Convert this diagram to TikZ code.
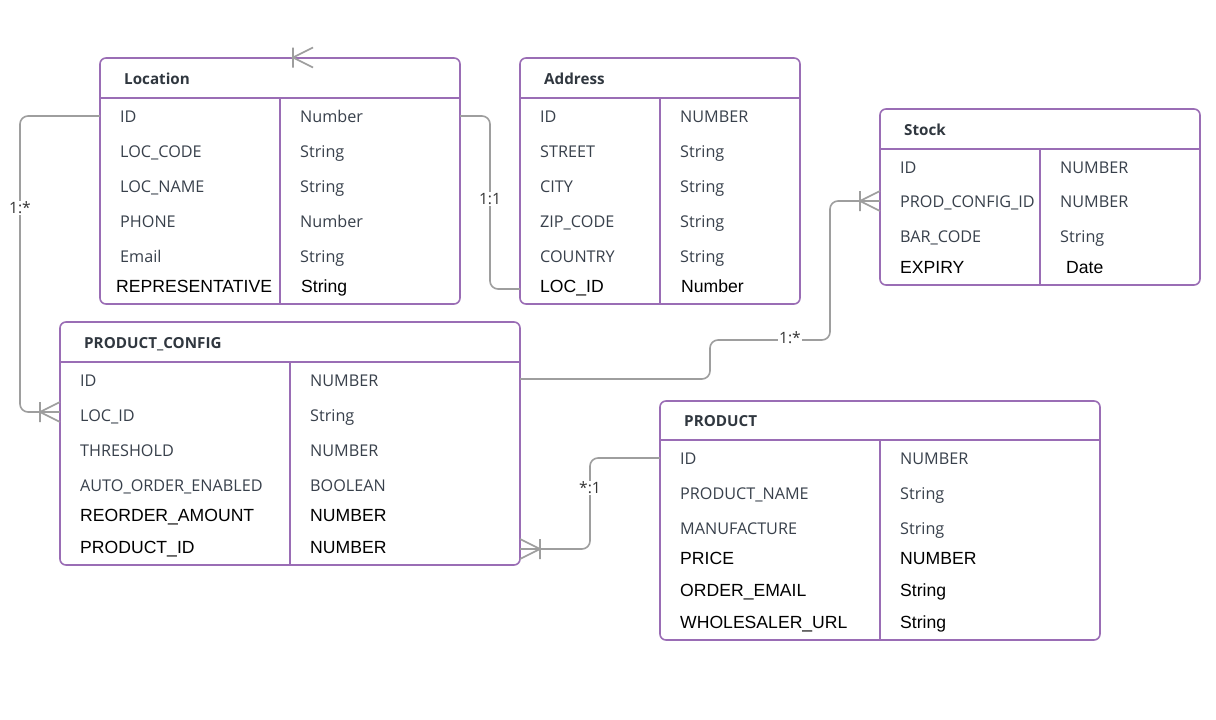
\documentclass[tikz,border=0pt]{standalone}
\usepackage{fontspec}
\setmainfont{Liberation Sans}
\newfontfamily\osans{Open Sans}
\usetikzlibrary{calc}
\definecolor{purp}{HTML}{9A6DB5}
\definecolor{lgray}{HTML}{9E9E9E}
\definecolor{txt}{HTML}{38404B}
\definecolor{hdr}{HTML}{30373F}
\tikzset{
  tbl/.style={draw=purp, line width=1.6pt, rounded corners=6pt, anchor=north west, outer sep=0pt, inner sep=0pt},
  sep/.style={draw=purp, line width=1.6pt},
  hd/.style={anchor=west, inner sep=0pt, text height=10.9pt, text depth=0pt, text=hdr, font=\osans\fontsize{15.2}{18}\selectfont\bfseries},
  fo/.style={anchor=west, inner sep=0pt, text height=11.5pt, text depth=0pt, text=txt, font=\osans\fontsize{16.2}{19}\selectfont},
  fa/.style={anchor=west, inner sep=0pt, text height=12.7pt, text depth=0pt, text=black, font=\fontsize{17.6}{20}\selectfont},
  conn/.style={draw=lgray, line width=1.6pt, rounded corners=8pt},
  lbl/.style={fill=white, inner sep=1pt, text=black!80, font=\osans\fontsize{15.6}{18}\selectfont},
  pics/crow/.style={code={\draw[draw=lgray, line width=1.6pt] (-20,-10) -- (-20,10) (0,-10) -- (-20,0) -- (0,10);}}
}
\begin{document}
\begin{tikzpicture}[x=1pt, y=-1pt]
\useasboundingbox[fill=white] (0,0) rectangle (1216,720);

% ---------- Location ----------
\node[tbl, minimum width=360pt, minimum height=246pt] (loc) at (100,58) {};
\draw[sep] (100,98) -- (460,98);
\draw[sep] (280,98) -- (280,304);
\node[hd] (loch) at (124,79) {Location};
\node[fo] (loc1) at (120,117) {ID};
\node[fo] (loc2) at (120,152) {LOC\_CODE};
\node[fo] (loc3) at (120,187) {LOC\_NAME};
\node[fo] (loc4) at (120,222) {PHONE};
\node[fo] (loc5) at (120,257) {Email};
\node[fa] (loc6) at (116,286) {REPRESENTATIVE};
\node[fo] (loct1) at (300,117) {Number};
\node[fo] (loct2) at (300,152) {String};
\node[fo] (loct3) at (300,187) {String};
\node[fo] (loct4) at (300,222) {Number};
\node[fo] (loct5) at (300,257) {String};
\node[fa] (loct6) at (301,286) {String};

% ---------- Address ----------
\node[tbl, minimum width=280pt, minimum height=246pt] (addr) at (520,58) {};
\draw[sep] (520,98) -- (800,98);
\draw[sep] (660,98) -- (660,304);
\node[hd] (addrh) at (544,79) {Address};
\node[fo] (addr1) at (540,117) {ID};
\node[fo] (addr2) at (540,152) {STREET};
\node[fo] (addr3) at (540,187) {CITY};
\node[fo] (addr4) at (540,222) {ZIP\_CODE};
\node[fo] (addr5) at (540,257) {COUNTRY};
\node[fa] (addr6) at (540,286) {LOC\_ID};
\node[fo] (addrt1) at (680,117) {NUMBER};
\node[fo] (addrt2) at (680,152) {String};
\node[fo] (addrt3) at (680,187) {String};
\node[fo] (addrt4) at (680,222) {String};
\node[fo] (addrt5) at (680,257) {String};
\node[fa] (addrt6) at (681,286) {Number};

% ---------- Stock ----------
\node[tbl, minimum width=320pt, minimum height=176pt] (stock) at (880,109) {};
\draw[sep] (880,149) -- (1200,149);
\draw[sep] (1040,149) -- (1040,285);
\node[hd] (stockh) at (904,130) {Stock};
\node[fo] (stock1) at (900,168) {ID};
\node[fo] (stock2) at (900,202) {PROD\_CONFIG\_ID};
\node[fo] (stock3) at (900,237) {BAR\_CODE};
\node[fa] (stock4) at (900,267) {EXPIRY};
\node[fo] (stockt1) at (1060,168) {NUMBER};
\node[fo] (stockt2) at (1060,202) {NUMBER};
\node[fo] (stockt3) at (1060,237) {String};
\node[fa] (stockt4) at (1066,267) {Date};

% ---------- PRODUCT_CONFIG ----------
\node[tbl, minimum width=460pt, minimum height=243pt] (pc) at (60,322) {};
\draw[sep] (60,362) -- (520,362);
\draw[sep] (290,362) -- (290,565);
\node[hd] (pch) at (84,343) {PRODUCT\_CONFIG};
\node[fo] (pc1) at (80,381) {ID};
\node[fo] (pc2) at (80,416) {LOC\_ID};
\node[fo] (pc3) at (80,451) {THRESHOLD};
\node[fo] (pc4) at (80,486) {AUTO\_ORDER\_ENABLED};
\node[fa] (pc5) at (80,515) {REORDER\_AMOUNT};
\node[fa] (pc6) at (80,547) {PRODUCT\_ID};
\node[fo] (pct1) at (310,381) {NUMBER};
\node[fo] (pct2) at (310,416) {String};
\node[fo] (pct3) at (310,451) {NUMBER};
\node[fo] (pct4) at (310,486) {BOOLEAN};
\node[fa] (pct5) at (310,515) {NUMBER};
\node[fa] (pct6) at (310,547) {NUMBER};

% ---------- PRODUCT ----------
\node[tbl, minimum width=440pt, minimum height=239pt] (prod) at (660,401) {};
\draw[sep] (660,440) -- (1100,440);
\draw[sep] (880,440) -- (880,640);
\node[hd] (prodh) at (684,421) {PRODUCT};
\node[fo] (prod1) at (680,459) {ID};
\node[fo] (prod2) at (680,494) {PRODUCT\_NAME};
\node[fo] (prod3) at (680,529) {MANUFACTURE};
\node[fa] (prod4) at (680,558) {PRICE};
\node[fa] (prod5) at (680,590) {ORDER\_EMAIL};
\node[fa] (prod6) at (680,622) {WHOLESALER\_URL};
\node[fo] (prodt1) at (900,459) {NUMBER};
\node[fo] (prodt2) at (900,494) {String};
\node[fo] (prodt3) at (900,529) {String};
\node[fa] (prodt4) at (900,558) {NUMBER};
\node[fa] (prodt5) at (900,590) {String};
\node[fa] (prodt6) at (900,622) {String};

% ---------- Connectors ----------
\coordinate (topmark) at (313,57.5);
\pic at (topmark) {crow};

\draw[conn] (loc.west |- 0,116) -- ++(-80,0) |- (pc.west |- 0,412);
\pic at (pc.west |- 0,412) {crow};
\node[lbl] (l1) at (20,208) {1:*};

\draw[conn] (loc.east |- 0,116) -- ++(30,0) |- (addr.west |- 0,289);
\node[lbl] (l2) at (490,199) {1:1};

\draw[conn] (pc.east |- 0,379) -- ++(190,0) |- ++(120,-39) |- (stock.west |- 0,201);
\pic at (stock.west |- 0,201) {crow};
\node[lbl] (l3) at (790,338) {1:*};

\draw[conn] (prod.west |- 0,458) -- ++(-70,0) |- (pc.east |- 0,549);
\pic[xscale=-1] at (pc.east |- 0,549) {crow};
\node[lbl] (l4) at (590,488) {*:1};
\end{tikzpicture}
\end{document}
